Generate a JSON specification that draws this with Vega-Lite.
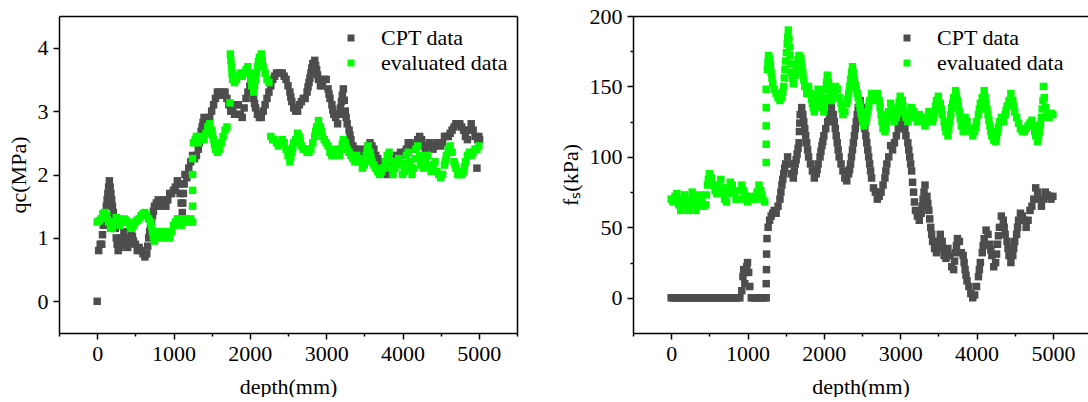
{
  "$schema": "https://vega.github.io/schema/vega-lite/v6.json",
  "autosize": {"type": "pad"},
  "padding": {"left": 7, "top": 5, "right": 0, "bottom": 0},
  "background": "white",
  "config": {
    "font": "Liberation Serif",
    "view": {"stroke": null},
    "axis": {
      "grid": false,
      "domainColor": "black",
      "domainWidth": 1.5,
      "tickColor": "black",
      "tickWidth": 1.5,
      "labelColor": "black",
      "titleColor": "black",
      "labelFont": "Liberation Serif",
      "titleFont": "Liberation Serif",
      "labelFontSize": 22,
      "titleFontSize": 22,
      "titleFontWeight": "normal"
    },
    "legend": {
      "labelFont": "Liberation Serif",
      "labelFontSize": 22,
      "labelColor": "black",
      "symbolType": "square",
      "symbolSize": 49,
      "symbolStrokeWidth": 0,
      "symbolOpacity": 1,
      "rowPadding": 3,
      "labelOffset": 19
    }
  },
  "datasets": {
    "qcCPT": [
      {"d":0,"v":0},{"d":20,"v":0.8},{"d":40,"v":0.9},{"d":60,"v":0.9},{"d":70,"v":1.05},{"d":80,"v":1.2},{"d":100,"v":1.2},{"d":110,"v":1.35},{"d":120,"v":1.5},{"d":130,"v":1.6},{"d":140,"v":1.7},{"d":150,"v":1.8},{"d":160,"v":1.9},{"d":170,"v":1.8},{"d":180,"v":1.7},{"d":190,"v":1.6},{"d":200,"v":1.5},{"d":212,"v":1.4},{"d":225,"v":1.3},{"d":237,"v":1.15},{"d":250,"v":1.0},{"d":262,"v":0.9},{"d":275,"v":0.8},{"d":300,"v":0.85},{"d":312,"v":0.92},{"d":325,"v":1.0},{"d":350,"v":1.1},{"d":362,"v":1.0},{"d":375,"v":0.9},{"d":400,"v":0.85},{"d":412,"v":0.92},{"d":425,"v":1.0},{"d":450,"v":1.1},{"d":462,"v":1.02},{"d":475,"v":0.95},{"d":500,"v":0.9},{"d":525,"v":0.8},{"d":550,"v":0.85},{"d":575,"v":0.8},{"d":600,"v":0.75},{"d":625,"v":0.7},{"d":650,"v":0.75},{"d":662,"v":0.87},{"d":675,"v":1.0},{"d":687,"v":1.1},{"d":700,"v":1.2},{"d":712,"v":1.27},{"d":725,"v":1.35},{"d":737,"v":1.42},{"d":750,"v":1.5},{"d":775,"v":1.55},{"d":800,"v":1.6},{"d":825,"v":1.5},{"d":850,"v":1.55},{"d":875,"v":1.6},{"d":900,"v":1.5},{"d":925,"v":1.6},{"d":950,"v":1.7},{"d":975,"v":1.7},{"d":1000,"v":1.75},{"d":1025,"v":1.8},{"d":1050,"v":1.9},{"d":1075,"v":1.85},{"d":1087,"v":1.7},{"d":1100,"v":1.55},{"d":1115,"v":1.4},{"d":1122,"v":1.55},{"d":1130,"v":1.7},{"d":1140,"v":1.85},{"d":1150,"v":2.0},{"d":1175,"v":1.95},{"d":1200,"v":2.1},{"d":1225,"v":2.2},{"d":1250,"v":2.3},{"d":1275,"v":2.25},{"d":1300,"v":2.3},{"d":1325,"v":2.4},{"d":1337,"v":2.5},{"d":1350,"v":2.6},{"d":1362,"v":2.68},{"d":1375,"v":2.75},{"d":1387,"v":2.82},{"d":1400,"v":2.9},{"d":1425,"v":2.8},{"d":1450,"v":2.75},{"d":1475,"v":2.9},{"d":1500,"v":3.0},{"d":1525,"v":3.1},{"d":1550,"v":3.2},{"d":1575,"v":3.3},{"d":1600,"v":3.3},{"d":1625,"v":3.25},{"d":1650,"v":3.3},{"d":1675,"v":3.3},{"d":1700,"v":3.2},{"d":1725,"v":3.1},{"d":1750,"v":3.0},{"d":1775,"v":3.0},{"d":1800,"v":2.95},{"d":1825,"v":3.1},{"d":1850,"v":3.1},{"d":1875,"v":2.95},{"d":1900,"v":2.9},{"d":1925,"v":3.05},{"d":1950,"v":3.2},{"d":1975,"v":3.3},{"d":2000,"v":3.4},{"d":2025,"v":3.3},{"d":2050,"v":3.2},{"d":2062,"v":3.12},{"d":2075,"v":3.05},{"d":2100,"v":2.95},{"d":2125,"v":2.9},{"d":2150,"v":2.9},{"d":2175,"v":3.0},{"d":2200,"v":3.1},{"d":2225,"v":3.2},{"d":2250,"v":3.3},{"d":2275,"v":3.4},{"d":2300,"v":3.5},{"d":2325,"v":3.55},{"d":2350,"v":3.6},{"d":2375,"v":3.6},{"d":2400,"v":3.6},{"d":2425,"v":3.6},{"d":2450,"v":3.55},{"d":2475,"v":3.5},{"d":2500,"v":3.4},{"d":2525,"v":3.3},{"d":2537,"v":3.22},{"d":2550,"v":3.15},{"d":2575,"v":3.05},{"d":2600,"v":3.0},{"d":2625,"v":3.0},{"d":2650,"v":3.1},{"d":2675,"v":3.15},{"d":2700,"v":3.2},{"d":2725,"v":3.2},{"d":2750,"v":3.3},{"d":2762,"v":3.38},{"d":2775,"v":3.45},{"d":2787,"v":3.52},{"d":2800,"v":3.6},{"d":2812,"v":3.68},{"d":2825,"v":3.75},{"d":2850,"v":3.8},{"d":2862,"v":3.72},{"d":2875,"v":3.65},{"d":2887,"v":3.57},{"d":2900,"v":3.5},{"d":2925,"v":3.4},{"d":2950,"v":3.4},{"d":2975,"v":3.5},{"d":3000,"v":3.5},{"d":3025,"v":3.35},{"d":3037,"v":3.27},{"d":3050,"v":3.2},{"d":3075,"v":3.1},{"d":3087,"v":3.02},{"d":3100,"v":2.95},{"d":3125,"v":2.9},{"d":3150,"v":2.8},{"d":3175,"v":2.95},{"d":3187,"v":3.05},{"d":3200,"v":3.15},{"d":3212,"v":3.25},{"d":3225,"v":3.35},{"d":3237,"v":3.17},{"d":3250,"v":3.0},{"d":3262,"v":2.9},{"d":3275,"v":2.8},{"d":3300,"v":2.7},{"d":3312,"v":2.62},{"d":3325,"v":2.55},{"d":3350,"v":2.45},{"d":3375,"v":2.4},{"d":3400,"v":2.35},{"d":3425,"v":2.35},{"d":3450,"v":2.4},{"d":3475,"v":2.35},{"d":3500,"v":2.3},{"d":3525,"v":2.35},{"d":3550,"v":2.45},{"d":3575,"v":2.5},{"d":3600,"v":2.45},{"d":3625,"v":2.4},{"d":3650,"v":2.3},{"d":3675,"v":2.25},{"d":3700,"v":2.2},{"d":3725,"v":2.15},{"d":3750,"v":2.1},{"d":3775,"v":2.05},{"d":3800,"v":2.0},{"d":3825,"v":2.05},{"d":3850,"v":2.1},{"d":3875,"v":2.2},{"d":3900,"v":2.25},{"d":3925,"v":2.3},{"d":3950,"v":2.3},{"d":3975,"v":2.35},{"d":4000,"v":2.3},{"d":4025,"v":2.35},{"d":4050,"v":2.4},{"d":4075,"v":2.5},{"d":4100,"v":2.5},{"d":4125,"v":2.45},{"d":4150,"v":2.4},{"d":4175,"v":2.45},{"d":4200,"v":2.55},{"d":4225,"v":2.6},{"d":4250,"v":2.55},{"d":4275,"v":2.45},{"d":4300,"v":2.4},{"d":4325,"v":2.45},{"d":4350,"v":2.5},{"d":4375,"v":2.45},{"d":4400,"v":2.4},{"d":4425,"v":2.45},{"d":4450,"v":2.5},{"d":4475,"v":2.5},{"d":4500,"v":2.45},{"d":4525,"v":2.5},{"d":4550,"v":2.6},{"d":4575,"v":2.6},{"d":4600,"v":2.6},{"d":4625,"v":2.65},{"d":4650,"v":2.7},{"d":4675,"v":2.75},{"d":4700,"v":2.8},{"d":4725,"v":2.8},{"d":4750,"v":2.8},{"d":4775,"v":2.75},{"d":4800,"v":2.7},{"d":4825,"v":2.6},{"d":4850,"v":2.55},{"d":4875,"v":2.7},{"d":4900,"v":2.8},{"d":4925,"v":2.7},{"d":4950,"v":2.6},{"d":4975,"v":2.1},{"d":4985,"v":2.55},{"d":5000,"v":2.6},{"d":5010,"v":2.55}
    ],
    "qcEval": [
      {"d":0,"v":1.25},{"d":25,"v":1.27},{"d":50,"v":1.3},{"d":75,"v":1.38},{"d":100,"v":1.4},{"d":125,"v":1.35},{"d":150,"v":1.25},{"d":175,"v":1.15},{"d":200,"v":1.15},{"d":225,"v":1.25},{"d":250,"v":1.32},{"d":275,"v":1.28},{"d":300,"v":1.2},{"d":325,"v":1.25},{"d":350,"v":1.3},{"d":375,"v":1.28},{"d":400,"v":1.25},{"d":425,"v":1.2},{"d":450,"v":1.15},{"d":475,"v":1.2},{"d":500,"v":1.25},{"d":525,"v":1.28},{"d":550,"v":1.3},{"d":575,"v":1.35},{"d":600,"v":1.38},{"d":625,"v":1.4},{"d":650,"v":1.35},{"d":675,"v":1.3},{"d":700,"v":1.25},{"d":712,"v":1.18},{"d":725,"v":1.1},{"d":737,"v":1.02},{"d":750,"v":0.95},{"d":775,"v":1.0},{"d":800,"v":1.1},{"d":825,"v":1.05},{"d":850,"v":1.0},{"d":875,"v":1.05},{"d":900,"v":1.1},{"d":925,"v":1.0},{"d":950,"v":1.0},{"d":975,"v":1.1},{"d":1000,"v":1.2},{"d":1025,"v":1.25},{"d":1050,"v":1.3},{"d":1075,"v":1.3},{"d":1100,"v":1.2},{"d":1125,"v":1.25},{"d":1150,"v":1.3},{"d":1175,"v":1.3},{"d":1200,"v":1.25},{"d":1225,"v":1.3},{"d":1250,"v":1.25},{"d":1250,"v":1.5},{"d":1250,"v":1.75},{"d":1250,"v":2.0},{"d":1250,"v":2.25},{"d":1260,"v":2.5},{"d":1285,"v":2.55},{"d":1300,"v":2.6},{"d":1325,"v":2.5},{"d":1350,"v":2.55},{"d":1375,"v":2.6},{"d":1400,"v":2.55},{"d":1425,"v":2.65},{"d":1450,"v":2.75},{"d":1475,"v":2.8},{"d":1500,"v":2.7},{"d":1512,"v":2.62},{"d":1525,"v":2.55},{"d":1537,"v":2.47},{"d":1550,"v":2.4},{"d":1575,"v":2.35},{"d":1600,"v":2.4},{"d":1625,"v":2.5},{"d":1650,"v":2.6},{"d":1675,"v":2.7},{"d":1700,"v":2.75},{"d":1740,"v":3.13},{"d":1745,"v":3.9},{"d":1752,"v":3.8},{"d":1760,"v":3.7},{"d":1767,"v":3.6},{"d":1775,"v":3.5},{"d":1800,"v":3.45},{"d":1825,"v":3.5},{"d":1850,"v":3.55},{"d":1875,"v":3.6},{"d":1900,"v":3.55},{"d":1925,"v":3.6},{"d":1950,"v":3.65},{"d":1975,"v":3.7},{"d":2000,"v":3.6},{"d":2012,"v":3.5},{"d":2025,"v":3.4},{"d":2050,"v":3.3},{"d":2062,"v":3.4},{"d":2075,"v":3.5},{"d":2087,"v":3.6},{"d":2100,"v":3.7},{"d":2112,"v":3.78},{"d":2125,"v":3.85},{"d":2150,"v":3.9},{"d":2162,"v":3.8},{"d":2175,"v":3.7},{"d":2200,"v":3.6},{"d":2225,"v":3.5},{"d":2250,"v":3.45},{"d":2275,"v":2.6},{"d":2300,"v":2.55},{"d":2325,"v":2.55},{"d":2350,"v":2.5},{"d":2375,"v":2.45},{"d":2400,"v":2.5},{"d":2425,"v":2.55},{"d":2450,"v":2.5},{"d":2475,"v":2.4},{"d":2500,"v":2.3},{"d":2525,"v":2.2},{"d":2537,"v":2.28},{"d":2550,"v":2.35},{"d":2562,"v":2.42},{"d":2575,"v":2.5},{"d":2600,"v":2.55},{"d":2625,"v":2.65},{"d":2650,"v":2.6},{"d":2662,"v":2.52},{"d":2675,"v":2.45},{"d":2700,"v":2.4},{"d":2725,"v":2.4},{"d":2750,"v":2.35},{"d":2775,"v":2.35},{"d":2800,"v":2.4},{"d":2825,"v":2.5},{"d":2850,"v":2.6},{"d":2862,"v":2.68},{"d":2875,"v":2.75},{"d":2900,"v":2.85},{"d":2925,"v":2.75},{"d":2937,"v":2.68},{"d":2950,"v":2.6},{"d":2975,"v":2.55},{"d":3000,"v":2.5},{"d":3025,"v":2.45},{"d":3050,"v":2.35},{"d":3075,"v":2.3},{"d":3100,"v":2.3},{"d":3125,"v":2.4},{"d":3150,"v":2.35},{"d":3175,"v":2.3},{"d":3200,"v":2.4},{"d":3212,"v":2.48},{"d":3225,"v":2.55},{"d":3250,"v":2.5},{"d":3275,"v":2.4},{"d":3300,"v":2.35},{"d":3325,"v":2.3},{"d":3350,"v":2.25},{"d":3375,"v":2.2},{"d":3400,"v":2.3},{"d":3425,"v":2.25},{"d":3450,"v":2.2},{"d":3475,"v":2.1},{"d":3500,"v":2.15},{"d":3512,"v":2.22},{"d":3525,"v":2.3},{"d":3537,"v":2.38},{"d":3550,"v":2.45},{"d":3575,"v":2.35},{"d":3587,"v":2.27},{"d":3600,"v":2.2},{"d":3625,"v":2.15},{"d":3650,"v":2.1},{"d":3675,"v":2.05},{"d":3700,"v":2.0},{"d":3725,"v":2.05},{"d":3750,"v":2.1},{"d":3775,"v":2.2},{"d":3800,"v":2.3},{"d":3825,"v":2.35},{"d":3837,"v":2.22},{"d":3850,"v":2.1},{"d":3875,"v":2.0},{"d":3900,"v":2.1},{"d":3925,"v":2.2},{"d":3950,"v":2.25},{"d":3975,"v":2.15},{"d":4000,"v":2.0},{"d":4025,"v":2.05},{"d":4037,"v":2.17},{"d":4050,"v":2.3},{"d":4075,"v":2.35},{"d":4100,"v":2.2},{"d":4112,"v":2.1},{"d":4125,"v":2.0},{"d":4150,"v":2.1},{"d":4162,"v":2.25},{"d":4175,"v":2.4},{"d":4200,"v":2.45},{"d":4225,"v":2.3},{"d":4237,"v":2.22},{"d":4250,"v":2.15},{"d":4275,"v":2.1},{"d":4300,"v":2.2},{"d":4325,"v":2.3},{"d":4350,"v":2.15},{"d":4375,"v":2.05},{"d":4400,"v":2.1},{"d":4425,"v":2.2},{"d":4450,"v":2.05},{"d":4475,"v":2.0},{"d":4500,"v":1.95},{"d":4525,"v":2.0},{"d":4550,"v":2.15},{"d":4562,"v":2.22},{"d":4575,"v":2.3},{"d":4600,"v":2.4},{"d":4625,"v":2.45},{"d":4650,"v":2.35},{"d":4675,"v":2.2},{"d":4687,"v":2.15},{"d":4700,"v":2.1},{"d":4725,"v":2.0},{"d":4750,"v":2.0},{"d":4775,"v":2.0},{"d":4800,"v":2.05},{"d":4812,"v":2.12},{"d":4825,"v":2.2},{"d":4850,"v":2.3},{"d":4875,"v":2.35},{"d":4900,"v":2.3},{"d":4925,"v":2.35},{"d":4950,"v":2.4},{"d":4975,"v":2.4},{"d":5000,"v":2.45}
    ],
    "fsCPT": [
      {"d":0,"v":0},{"d":25,"v":0},{"d":50,"v":0},{"d":75,"v":0},{"d":100,"v":0},{"d":125,"v":0},{"d":150,"v":0},{"d":175,"v":0},{"d":200,"v":0},{"d":225,"v":0},{"d":250,"v":0},{"d":275,"v":0},{"d":300,"v":0},{"d":325,"v":0},{"d":350,"v":0},{"d":375,"v":0},{"d":400,"v":0},{"d":425,"v":0},{"d":450,"v":0},{"d":475,"v":0},{"d":500,"v":0},{"d":525,"v":0},{"d":550,"v":0},{"d":575,"v":0},{"d":600,"v":0},{"d":625,"v":0},{"d":650,"v":0},{"d":675,"v":0},{"d":700,"v":0},{"d":725,"v":0},{"d":750,"v":0},{"d":775,"v":0},{"d":800,"v":0},{"d":825,"v":0},{"d":850,"v":0},{"d":875,"v":0},{"d":900,"v":0},{"d":925,"v":5},{"d":940,"v":15},{"d":950,"v":20},{"d":965,"v":10},{"d":975,"v":18},{"d":990,"v":22},{"d":1000,"v":25},{"d":1015,"v":18},{"d":1030,"v":8},{"d":1050,"v":0},{"d":1075,"v":0},{"d":1100,"v":0},{"d":1125,"v":0},{"d":1150,"v":0},{"d":1175,"v":0},{"d":1200,"v":0},{"d":1225,"v":0},{"d":1245,"v":0},{"d":1245,"v":10},{"d":1248,"v":20},{"d":1250,"v":31},{"d":1255,"v":42},{"d":1270,"v":50},{"d":1290,"v":55},{"d":1310,"v":58},{"d":1330,"v":60},{"d":1350,"v":62},{"d":1375,"v":60},{"d":1400,"v":65},{"d":1425,"v":70},{"d":1437,"v":75},{"d":1450,"v":80},{"d":1462,"v":84},{"d":1475,"v":88},{"d":1487,"v":92},{"d":1500,"v":95},{"d":1525,"v":100},{"d":1550,"v":95},{"d":1575,"v":88},{"d":1600,"v":85},{"d":1612,"v":90},{"d":1625,"v":95},{"d":1637,"v":98},{"d":1650,"v":102},{"d":1662,"v":106},{"d":1675,"v":110},{"d":1680,"v":118},{"d":1685,"v":124},{"d":1690,"v":130},{"d":1710,"v":135},{"d":1725,"v":130},{"d":1737,"v":125},{"d":1750,"v":120},{"d":1762,"v":115},{"d":1775,"v":110},{"d":1787,"v":105},{"d":1800,"v":100},{"d":1825,"v":95},{"d":1850,"v":90},{"d":1875,"v":85},{"d":1900,"v":88},{"d":1912,"v":91},{"d":1925,"v":95},{"d":1950,"v":100},{"d":1962,"v":104},{"d":1975,"v":108},{"d":1987,"v":111},{"d":2000,"v":115},{"d":2025,"v":120},{"d":2050,"v":125},{"d":2075,"v":130},{"d":2100,"v":135},{"d":2125,"v":130},{"d":2137,"v":125},{"d":2150,"v":120},{"d":2162,"v":115},{"d":2175,"v":110},{"d":2187,"v":105},{"d":2200,"v":100},{"d":2225,"v":95},{"d":2250,"v":90},{"d":2275,"v":85},{"d":2300,"v":83},{"d":2325,"v":88},{"d":2337,"v":91},{"d":2350,"v":95},{"d":2362,"v":100},{"d":2375,"v":105},{"d":2387,"v":110},{"d":2400,"v":115},{"d":2412,"v":120},{"d":2425,"v":125},{"d":2437,"v":130},{"d":2450,"v":135},{"d":2475,"v":140},{"d":2500,"v":135},{"d":2512,"v":130},{"d":2525,"v":125},{"d":2537,"v":120},{"d":2550,"v":115},{"d":2562,"v":110},{"d":2575,"v":105},{"d":2587,"v":100},{"d":2600,"v":95},{"d":2612,"v":90},{"d":2625,"v":85},{"d":2650,"v":78},{"d":2675,"v":75},{"d":2700,"v":70},{"d":2725,"v":72},{"d":2750,"v":75},{"d":2775,"v":80},{"d":2800,"v":85},{"d":2812,"v":90},{"d":2825,"v":95},{"d":2850,"v":100},{"d":2875,"v":108},{"d":2900,"v":105},{"d":2925,"v":110},{"d":2950,"v":115},{"d":2975,"v":120},{"d":2987,"v":125},{"d":3000,"v":130},{"d":3012,"v":135},{"d":3025,"v":140},{"d":3037,"v":132},{"d":3050,"v":125},{"d":3062,"v":120},{"d":3075,"v":115},{"d":3100,"v":110},{"d":3112,"v":105},{"d":3125,"v":100},{"d":3137,"v":95},{"d":3150,"v":90},{"d":3162,"v":82},{"d":3175,"v":75},{"d":3187,"v":68},{"d":3200,"v":62},{"d":3225,"v":58},{"d":3250,"v":55},{"d":3275,"v":60},{"d":3287,"v":65},{"d":3300,"v":70},{"d":3312,"v":75},{"d":3325,"v":80},{"d":3350,"v":72},{"d":3362,"v":67},{"d":3375,"v":62},{"d":3387,"v":56},{"d":3400,"v":50},{"d":3412,"v":45},{"d":3425,"v":40},{"d":3450,"v":35},{"d":3475,"v":32},{"d":3487,"v":36},{"d":3500,"v":40},{"d":3525,"v":45},{"d":3550,"v":40},{"d":3562,"v":35},{"d":3575,"v":30},{"d":3600,"v":28},{"d":3625,"v":35},{"d":3650,"v":30},{"d":3675,"v":22},{"d":3700,"v":20},{"d":3712,"v":26},{"d":3725,"v":32},{"d":3737,"v":37},{"d":3750,"v":42},{"d":3775,"v":40},{"d":3800,"v":32},{"d":3825,"v":30},{"d":3837,"v":25},{"d":3850,"v":20},{"d":3862,"v":16},{"d":3875,"v":12},{"d":3900,"v":8},{"d":3925,"v":3},{"d":3950,"v":0},{"d":3975,"v":2},{"d":4000,"v":8},{"d":4025,"v":15},{"d":4037,"v":20},{"d":4050,"v":25},{"d":4075,"v":32},{"d":4087,"v":37},{"d":4100,"v":42},{"d":4125,"v":48},{"d":4150,"v":45},{"d":4175,"v":38},{"d":4187,"v":34},{"d":4200,"v":30},{"d":4225,"v":22},{"d":4250,"v":25},{"d":4262,"v":31},{"d":4275,"v":38},{"d":4287,"v":44},{"d":4300,"v":50},{"d":4325,"v":58},{"d":4350,"v":55},{"d":4362,"v":50},{"d":4375,"v":45},{"d":4400,"v":40},{"d":4412,"v":35},{"d":4425,"v":30},{"d":4450,"v":25},{"d":4475,"v":30},{"d":4487,"v":35},{"d":4500,"v":40},{"d":4525,"v":45},{"d":4537,"v":50},{"d":4550,"v":55},{"d":4575,"v":60},{"d":4600,"v":58},{"d":4625,"v":55},{"d":4650,"v":50},{"d":4675,"v":55},{"d":4700,"v":62},{"d":4725,"v":65},{"d":4750,"v":70},{"d":4775,"v":78},{"d":4800,"v":75},{"d":4825,"v":70},{"d":4850,"v":65},{"d":4875,"v":70},{"d":4900,"v":75},{"d":4925,"v":73},{"d":4950,"v":72},{"d":4975,"v":70},{"d":5000,"v":72}
    ],
    "fsEval": [
      {"d":0,"v":70},{"d":25,"v":68},{"d":50,"v":72},{"d":75,"v":74},{"d":87,"v":70},{"d":100,"v":66},{"d":125,"v":62},{"d":137,"v":66},{"d":150,"v":70},{"d":175,"v":73},{"d":187,"v":68},{"d":200,"v":64},{"d":225,"v":62},{"d":237,"v":66},{"d":250,"v":70},{"d":275,"v":75},{"d":287,"v":70},{"d":300,"v":66},{"d":325,"v":62},{"d":337,"v":66},{"d":350,"v":70},{"d":375,"v":73},{"d":400,"v":68},{"d":425,"v":65},{"d":450,"v":66},{"d":462,"v":73},{"d":475,"v":80},{"d":487,"v":84},{"d":500,"v":88},{"d":525,"v":85},{"d":550,"v":80},{"d":575,"v":76},{"d":600,"v":74},{"d":612,"v":77},{"d":625,"v":80},{"d":650,"v":84},{"d":675,"v":78},{"d":687,"v":74},{"d":700,"v":70},{"d":725,"v":68},{"d":750,"v":74},{"d":762,"v":78},{"d":775,"v":82},{"d":800,"v":80},{"d":825,"v":75},{"d":850,"v":70},{"d":875,"v":70},{"d":900,"v":76},{"d":925,"v":80},{"d":950,"v":76},{"d":962,"v":73},{"d":975,"v":70},{"d":1000,"v":68},{"d":1025,"v":70},{"d":1050,"v":72},{"d":1075,"v":70},{"d":1100,"v":70},{"d":1125,"v":75},{"d":1150,"v":80},{"d":1175,"v":76},{"d":1187,"v":73},{"d":1200,"v":70},{"d":1225,"v":68},{"d":1245,"v":96},{"d":1245,"v":109},{"d":1245,"v":122},{"d":1245,"v":135},{"d":1245,"v":148},{"d":1260,"v":162},{"d":1267,"v":167},{"d":1275,"v":172},{"d":1290,"v":170},{"d":1300,"v":165},{"d":1310,"v":160},{"d":1320,"v":156},{"d":1330,"v":152},{"d":1350,"v":148},{"d":1375,"v":145},{"d":1400,"v":142},{"d":1425,"v":140},{"d":1450,"v":142},{"d":1462,"v":146},{"d":1475,"v":150},{"d":1482,"v":156},{"d":1491,"v":162},{"d":1500,"v":168},{"d":1510,"v":174},{"d":1520,"v":180},{"d":1527,"v":185},{"d":1535,"v":190},{"d":1542,"v":184},{"d":1550,"v":178},{"d":1557,"v":172},{"d":1566,"v":166},{"d":1575,"v":160},{"d":1587,"v":156},{"d":1600,"v":152},{"d":1625,"v":158},{"d":1637,"v":162},{"d":1650,"v":166},{"d":1662,"v":169},{"d":1675,"v":172},{"d":1700,"v":170},{"d":1712,"v":165},{"d":1725,"v":160},{"d":1737,"v":155},{"d":1750,"v":150},{"d":1775,"v":145},{"d":1800,"v":150},{"d":1825,"v":145},{"d":1837,"v":141},{"d":1850,"v":138},{"d":1862,"v":135},{"d":1875,"v":132},{"d":1887,"v":136},{"d":1900,"v":140},{"d":1912,"v":144},{"d":1925,"v":148},{"d":1937,"v":145},{"d":1950,"v":142},{"d":1962,"v":138},{"d":1975,"v":135},{"d":2000,"v":132},{"d":2007,"v":137},{"d":2016,"v":142},{"d":2025,"v":148},{"d":2035,"v":153},{"d":2045,"v":158},{"d":2060,"v":153},{"d":2075,"v":148},{"d":2087,"v":144},{"d":2100,"v":140},{"d":2125,"v":142},{"d":2137,"v":146},{"d":2150,"v":150},{"d":2175,"v":148},{"d":2200,"v":142},{"d":2225,"v":138},{"d":2237,"v":134},{"d":2250,"v":130},{"d":2275,"v":132},{"d":2300,"v":138},{"d":2312,"v":141},{"d":2325,"v":145},{"d":2337,"v":150},{"d":2350,"v":155},{"d":2362,"v":160},{"d":2375,"v":164},{"d":2387,"v":160},{"d":2400,"v":155},{"d":2412,"v":151},{"d":2425,"v":148},{"d":2437,"v":145},{"d":2450,"v":142},{"d":2462,"v":138},{"d":2475,"v":135},{"d":2487,"v":131},{"d":2500,"v":128},{"d":2512,"v":125},{"d":2525,"v":122},{"d":2550,"v":125},{"d":2562,"v":128},{"d":2575,"v":132},{"d":2587,"v":136},{"d":2600,"v":140},{"d":2625,"v":145},{"d":2650,"v":142},{"d":2675,"v":140},{"d":2700,"v":145},{"d":2725,"v":140},{"d":2737,"v":135},{"d":2750,"v":130},{"d":2762,"v":125},{"d":2775,"v":120},{"d":2800,"v":118},{"d":2812,"v":121},{"d":2825,"v":125},{"d":2837,"v":128},{"d":2850,"v":132},{"d":2875,"v":138},{"d":2887,"v":134},{"d":2900,"v":130},{"d":2925,"v":125},{"d":2950,"v":128},{"d":2962,"v":131},{"d":2975,"v":135},{"d":2987,"v":139},{"d":3000,"v":143},{"d":3025,"v":140},{"d":3037,"v":136},{"d":3050,"v":132},{"d":3075,"v":128},{"d":3100,"v":125},{"d":3125,"v":130},{"d":3150,"v":135},{"d":3175,"v":132},{"d":3200,"v":128},{"d":3225,"v":125},{"d":3250,"v":130},{"d":3275,"v":128},{"d":3300,"v":127},{"d":3325,"v":122},{"d":3337,"v":125},{"d":3350,"v":128},{"d":3375,"v":132},{"d":3400,"v":130},{"d":3425,"v":125},{"d":3437,"v":128},{"d":3450,"v":132},{"d":3462,"v":136},{"d":3475,"v":140},{"d":3500,"v":143},{"d":3525,"v":138},{"d":3537,"v":134},{"d":3550,"v":130},{"d":3575,"v":125},{"d":3587,"v":121},{"d":3600,"v":118},{"d":3625,"v":115},{"d":3637,"v":120},{"d":3650,"v":125},{"d":3662,"v":130},{"d":3675,"v":135},{"d":3687,"v":138},{"d":3700,"v":142},{"d":3725,"v":147},{"d":3737,"v":143},{"d":3750,"v":140},{"d":3762,"v":136},{"d":3775,"v":132},{"d":3787,"v":127},{"d":3800,"v":122},{"d":3825,"v":118},{"d":3837,"v":123},{"d":3850,"v":128},{"d":3875,"v":125},{"d":3900,"v":120},{"d":3925,"v":118},{"d":3950,"v":115},{"d":3975,"v":118},{"d":3987,"v":121},{"d":4000,"v":125},{"d":4025,"v":130},{"d":4037,"v":134},{"d":4050,"v":138},{"d":4075,"v":142},{"d":4100,"v":147},{"d":4112,"v":142},{"d":4125,"v":138},{"d":4137,"v":134},{"d":4150,"v":130},{"d":4162,"v":126},{"d":4175,"v":122},{"d":4187,"v":118},{"d":4200,"v":115},{"d":4225,"v":112},{"d":4250,"v":111},{"d":4262,"v":114},{"d":4275,"v":118},{"d":4287,"v":121},{"d":4300,"v":125},{"d":4325,"v":128},{"d":4350,"v":125},{"d":4375,"v":130},{"d":4387,"v":133},{"d":4400,"v":136},{"d":4425,"v":140},{"d":4450,"v":145},{"d":4475,"v":140},{"d":4487,"v":136},{"d":4500,"v":132},{"d":4525,"v":128},{"d":4550,"v":124},{"d":4575,"v":120},{"d":4600,"v":118},{"d":4625,"v":118},{"d":4650,"v":120},{"d":4675,"v":122},{"d":4700,"v":124},{"d":4725,"v":126},{"d":4750,"v":122},{"d":4762,"v":118},{"d":4775,"v":115},{"d":4800,"v":111},{"d":4812,"v":114},{"d":4825,"v":118},{"d":4837,"v":123},{"d":4850,"v":128},{"d":4860,"v":134},{"d":4870,"v":140},{"d":4875,"v":150},{"d":4887,"v":142},{"d":4900,"v":135},{"d":4925,"v":130},{"d":4950,"v":128},{"d":4975,"v":131},{"d":5000,"v":130}
    ]
  },
  "bounds": "flush",
  "spacing": 116,
  "resolve": {"scale": {"color": "independent"}, "legend": {"color": "independent"}},
  "hconcat": [
    {
      "width": 458,
      "height": 317,
      "resolve": {"axis": {"x": "independent", "y": "independent"}},
      "layer": [
        {
          "data": {"name": "qcCPT"},
          "mark": {"type": "point", "shape": "square", "filled": true, "size": 56, "opacity": 1, "strokeWidth": 0},
          "encoding": {
            "x": {"field": "d", "type": "quantitative", "scale": {"domain": [-500, 5500], "nice": false, "zero": false},
              "axis": {"orient": "bottom", "title": "depth(mm)", "format": "d",
                "labelFont": "Liberation Serif", "labelFontSize": 22, "titleFont": "Liberation Serif", "titleFontSize": 22,
                "values": [-500, 0, 500, 1000, 1500, 2000, 2500, 3000, 3500, 4000, 4500, 5000, 5500],
                "labelExpr": "datum.value % 1000 === 0 && datum.value >= 0 && datum.value <= 5000 ? datum.label : ''",
                "tickSize": {"condition": {"test": "datum.value % 1000 === 0", "value": 6}, "value": 3},
                "labelPadding": 4, "titlePadding": 12, "labelFlush": false}},
            "y": {"field": "v", "type": "quantitative", "scale": {"domain": [-0.5, 4.5], "nice": false, "zero": false},
              "axis": {"orient": "left", "title": "qc(MPa)", "format": "d",
                "labelFont": "Liberation Serif", "labelFontSize": 22, "titleFont": "Liberation Serif", "titleFontSize": 22,
                "values": [0, 0.5, 1, 1.5, 2, 2.5, 3, 3.5, 4],
                "labelExpr": "datum.value % 1 === 0 ? datum.label : ''",
                "tickSize": {"condition": {"test": "datum.value % 1 === 0", "value": 6}, "value": 3},
                "labelPadding": 5, "titlePadding": 7, "labelFlush": false}},
            "color": {"datum": "CPT data", "type": "nominal",
              "scale": {"domain": ["CPT data", "evaluated data"], "range": ["#4d4d4d", "#00ff00"]},
              "legend": {"title": null, "orient": "none", "legendX": 281, "legendY": 11}}
          }
        },
        {
          "data": {"name": "qcEval"},
          "mark": {"type": "point", "shape": "square", "filled": true, "size": 56, "opacity": 1, "strokeWidth": 0},
          "encoding": {
            "x": {"field": "d", "type": "quantitative",
              "axis": {"orient": "top", "title": null, "labels": false, "ticks": false}},
            "y": {"field": "v", "type": "quantitative",
              "axis": {"orient": "right", "title": null, "labels": false, "ticks": false}},
            "color": {"datum": "evaluated data", "type": "nominal"}
          }
        }
      ]
    },
    {
      "width": 455,
      "height": 317,
      "resolve": {"axis": {"x": "independent", "y": "independent"}},
      "layer": [
        {
          "data": {"name": "fsCPT"},
          "mark": {"type": "point", "shape": "square", "filled": true, "size": 56, "opacity": 1, "strokeWidth": 0},
          "encoding": {
            "x": {"field": "d", "type": "quantitative", "scale": {"domain": [-500, 5460], "nice": false, "zero": false},
              "axis": {"orient": "bottom", "title": "depth(mm)", "format": "d",
                "labelFont": "Liberation Serif", "labelFontSize": 22, "titleFont": "Liberation Serif", "titleFontSize": 22,
                "values": [-500, 0, 500, 1000, 1500, 2000, 2500, 3000, 3500, 4000, 4500, 5000],
                "labelExpr": "datum.value % 1000 === 0 && datum.value >= 0 ? datum.label : ''",
                "tickSize": {"condition": {"test": "datum.value % 1000 === 0", "value": 6}, "value": 3},
                "labelPadding": 4, "titlePadding": 12, "labelFlush": false}},
            "y": {"field": "v", "type": "quantitative", "scale": {"domain": [-25, 200], "nice": false, "zero": false},
              "axis": {"orient": "left", "title": "fₛ(kPa)", "format": "d",
                "labelFont": "Liberation Serif", "labelFontSize": 22, "titleFont": "Liberation Serif", "titleFontSize": 22,
                "values": [0, 25, 50, 75, 100, 125, 150, 175, 200],
                "labelExpr": "datum.value % 50 === 0 ? datum.label : ''",
                "tickSize": {"condition": {"test": "datum.value % 50 === 0", "value": 6}, "value": 3},
                "labelPadding": 5, "titlePadding": 7, "labelFlush": false}},
            "color": {"datum": "CPT data", "type": "nominal",
              "scale": {"domain": ["CPT data", "evaluated data"], "range": ["#4d4d4d", "#00ff00"]},
              "legend": {"title": null, "orient": "none", "legendX": 263, "legendY": 11}}
          }
        },
        {
          "data": {"name": "fsEval"},
          "mark": {"type": "point", "shape": "square", "filled": true, "size": 56, "opacity": 1, "strokeWidth": 0},
          "encoding": {
            "x": {"field": "d", "type": "quantitative",
              "axis": {"orient": "top", "title": null, "labels": false, "ticks": false}},
            "y": {"field": "v", "type": "quantitative", "axis": null},
            "color": {"datum": "evaluated data", "type": "nominal"}
          }
        }
      ]
    }
  ]
}
